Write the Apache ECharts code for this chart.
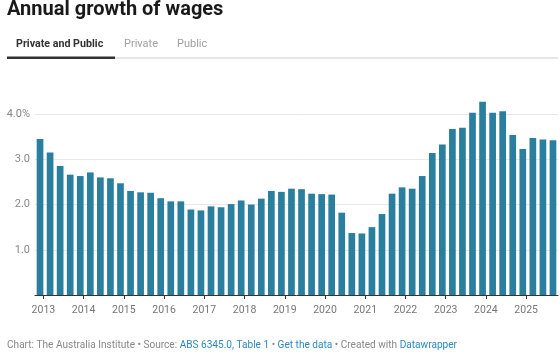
<!DOCTYPE html>
<html>
<head>
<meta charset="utf-8">
<title>Annual growth of wages</title>
<script src="https://cdn.jsdelivr.net/npm/echarts@6/dist/echarts.min.js"></script>
<style>
  html, body { margin: 0; padding: 0; background: #fff; }
  #chart { width: 560px; height: 352px; }
</style>
</head>
<body>
<div id="chart"></div>
<script>
// quarters, Dec 2012 .. Sep 2025
const quarters = [];
const qMonths = ["Mar", "Jun", "Sep", "Dec"];
for (let i = 0; i < 52; i++) {
  const q = (3 + i) % 4;
  const y = 2012 + Math.floor((3 + i) / 4);
  quarters.push(qMonths[q] + " " + y);
}

// annual growth, private and public (%)
const wageGrowth = [
  3.45, 3.15, 2.85, 2.66, 2.63, 2.71, 2.60, 2.58,
  2.47, 2.30, 2.27, 2.26, 2.14, 2.07, 2.07, 1.89,
  1.87, 1.96, 1.94, 2.01, 2.09, 2.00, 2.13, 2.30,
  2.28, 2.35, 2.34, 2.24, 2.23, 2.22, 1.82, 1.37,
  1.36, 1.50, 1.79, 2.24, 2.38, 2.35, 2.63, 3.14,
  3.33, 3.67, 3.70, 4.03, 4.27, 4.03, 4.06, 3.54,
  3.23, 3.47, 3.44, 3.42
];

// year ticks on the x axis
const yearTicks = [2013, 2014, 2015, 2016, 2017, 2018, 2019, 2020, 2021, 2022, 2023, 2024, 2025];
const yTicks = [0, 1, 2, 3, 4];

// x position in months from Jan 2012 (bar = last month of quarter)
const monthOf = i => 11 + 3 * i;
const yearToMonth = y => (y - 2012) * 12;

const barColor = "#2a7f9f";
const gridColor = "#e8e8e8";
const none = "rgba(0,0,0,0)";
const font = "Roboto, 'DejaVu Sans', sans-serif";

const chart = echarts.init(document.getElementById("chart"), null, { renderer: "canvas" });

const option = {
  backgroundColor: "#fff",
  animation: false,
  textStyle: { fontFamily: font },
  grid: {
    left: 35,
    right: 2,
    top: 100.5,
    bottom: 57,
    containLabel: false
  },
  xAxis: {
    type: "value",
    min: 9.5,
    max: 165.5,
    axisLine: { show: true, onZero: false, lineStyle: { color: "#333", width: 1 } },
    axisTick: {
      show: true,
      length: 4,
      lineStyle: { color: "#333" },
      customValues: yearTicks.map(yearToMonth)
    },
    axisLabel: {
      color: "#777",
      fontSize: 10.5,
      fontFamily: font,
      margin: 10,
      customValues: yearTicks.map(yearToMonth),
      formatter: v => String(Math.round(2012 + v / 12))
    },
    splitLine: { show: false }
  },
  yAxis: {
    type: "value",
    min: 0,
    max: 4.3,
    interval: 1,
    axisLine: { show: false },
    axisTick: { show: false },
    axisLabel: {
      color: "#888",
      fontSize: 11,
      fontFamily: font,
      margin: 5,
      customValues: yTicks,
      formatter: v => {
        if (v === 0) return "";
        if (v === 4) return "4.0%";
        return v.toFixed(1);
      }
    },
    splitLine: {
      show: true,
      // ticks are 0,1,2,3,4 and the 4.3 extent: hide first and last
      lineStyle: { color: [none, gridColor, gridColor, gridColor, gridColor, none], width: 1 }
    }
  },
  series: [
    {
      name: "Private and Public",
      type: "bar",
      barWidth: 6.7,
      itemStyle: { color: barColor },
      data: wageGrowth.map((v, i) => [monthOf(i), v])
    }
  ],
  graphic: [
    {
      type: "text",
      left: 7,
      top: 0,
      style: {
        text: "Annual growth of wages",
        fontFamily: font,
        fontSize: 20,
        fontWeight: "bold",
        fill: "#1a1a1a"
      }
    },
    // tabs
    {
      type: "text",
      left: 16,
      top: 38.5,
      style: { text: "Private and Public", fontFamily: font, fontSize: 10.7, fontWeight: "bold", fill: "#333" }
    },
    {
      type: "text",
      left: 124,
      top: 38.5,
      style: { text: "Private", fontFamily: font, fontSize: 11, fill: "#a0a0a0" }
    },
    {
      type: "text",
      left: 177,
      top: 38.5,
      style: { text: "Public", fontFamily: font, fontSize: 11, fill: "#a0a0a0" }
    },
    {
      type: "rect",
      shape: { x: 7, y: 57, width: 551, height: 2 },
      style: { fill: "#e6e6e6" }
    },
    {
      type: "rect",
      shape: { x: 7, y: 56.5, width: 108, height: 2.5 },
      style: { fill: "#333" }
    },
    // footer
    {
      type: "text",
      left: 7,
      top: 340.5,
      style: {
        text: "{g|Chart: The Australia Institute • Source: }{b|ABS 6345.0, Table 1}{g| • }{b|Get the data}{g| • Created with }{b|Datawrapper}",
        fontFamily: font,
        fontSize: 10.1,
        rich: {
          g: { fill: "#888", fontFamily: font, fontSize: 10.1 },
          b: { fill: "#2b89c2", fontFamily: font, fontSize: 10.1 }
        }
      }
    }
  ]
};

chart.setOption(option);
</script>
</body>
</html>
